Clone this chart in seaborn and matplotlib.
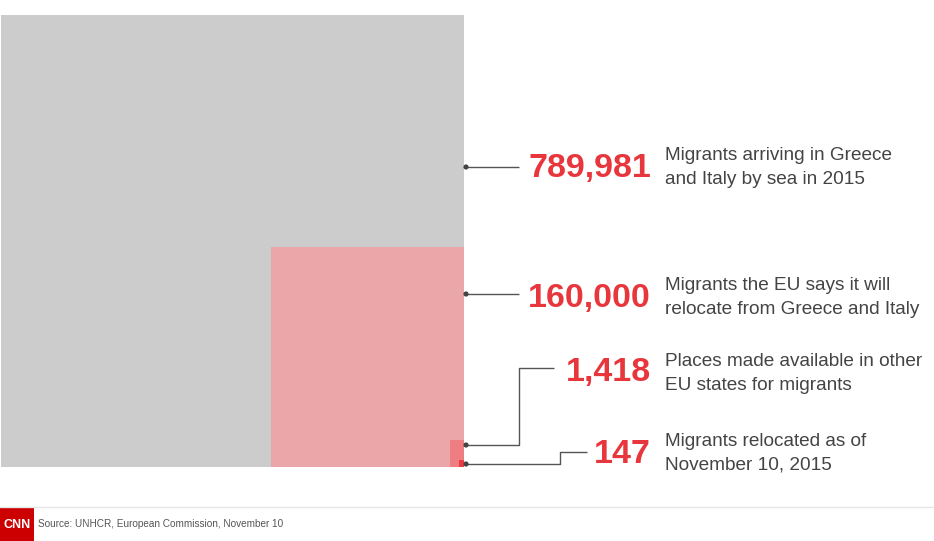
import numpy as np
import pandas as pd
import matplotlib
matplotlib.use("Agg")
import matplotlib.pyplot as plt
from matplotlib.patches import Rectangle
import seaborn as sns

# ---- data ----
values = [789981, 160000, 1418, 147]
value_labels = ["789,981", "160,000", "1,418", "147"]
descriptions = [
    "Migrants arriving in Greece\nand Italy by sea in 2015",
    "Migrants the EU says it will\nrelocate from Greece and Italy",
    "Places made available in other\nEU states for migrants",
    "Migrants relocated as of\nNovember 10, 2015",
]
source_text = "Source: UNHCR, European Commission, November 10"

# ---- style ----
sns.set_theme(style="white")
plt.rcParams["font.family"] = ["Liberation Sans", "DejaVu Sans"]
square_colors = ["#cccccc", "#eaa6a8", "#ee7e82", "#ec3b42"]
shape_aspect = [1.0, 1.17, 2.03, 1.43]   # height/width of each area block (style)
red = "#e8363d"
txt = "#444444"

W, H = 934, 541
fig = plt.figure(figsize=(W / 100, H / 100), dpi=100)

# area blocks: area proportional to value, anchored bottom-right
frac = np.array(values, dtype=float) / values[0]
df = pd.DataFrame({"value": values, "frac": frac, "aspect": shape_aspect})
df["w"] = np.sqrt(df["frac"] / df["aspect"])
df["h"] = np.sqrt(df["frac"] * df["aspect"])

ax = fig.add_axes([1 / W, (H - 467) / H, 463 / W, 452 / H])
ax.set_xlim(0, 1)
ax.set_ylim(0, 1)
ax.axis("off")
for i, r in df.iterrows():
    ax.add_patch(Rectangle((1 - r["w"], 0), r["w"], r["h"],
                           facecolor=square_colors[i], edgecolor="none", zorder=i))

# overlay axes in pixel coordinates for annotations
ov = fig.add_axes([0, 0, 1, 1])
ov.patch.set_alpha(0)

line_kw = dict(color="#555555", lw=1.0, solid_capstyle="butt")
paths = [
    ([466, 519], [167, 167]),
    ([466, 519], [294, 294]),
    ([466, 519, 519, 554], [445, 445, 368, 368]),
    ([466, 560, 560, 587], [464, 464, 452, 452]),
]
for xs, ys in paths:
    ov.plot(xs, ys, **line_kw)
dots = pd.DataFrame({"x": [p[0][0] for p in paths], "y": [p[1][0] for p in paths]})
sns.scatterplot(data=dots, x="x", y="y", ax=ov, color="#444444", s=14,
                edgecolor="none", legend=False, zorder=5)
ov.set_xlim(0, W)
ov.set_ylim(H, 0)
ov.axis("off")

num_baselines = [177, 307, 381, 463]
desc_baselines = [(160, 184), (290, 314), (366.5, 389.5), (446, 469)]
for lab, nb, desc, db in zip(value_labels, num_baselines, descriptions, desc_baselines):
    ov.text(651, nb, lab, ha="right", va="baseline", color=red,
            fontsize=24.5, fontweight="bold")
    for line, b in zip(desc.split("\n"), db):
        ov.text(665, b, line, ha="left", va="baseline", color=txt, fontsize=13.7)

# footer
ov.plot([0, W], [506.5, 506.5], color="#e6e6e6", lw=1)
ov.add_patch(Rectangle((0, 507), 34, 34, facecolor="#cc0000", edgecolor="none"))
ov.text(17, 525, "CNN", ha="center", va="center", color="white",
        fontsize=9, fontweight="bold")
ov.text(38, 527, source_text, ha="left", va="baseline", color="#555555", fontsize=7.2)

fig.savefig("out.png", dpi=100, facecolor="white")
